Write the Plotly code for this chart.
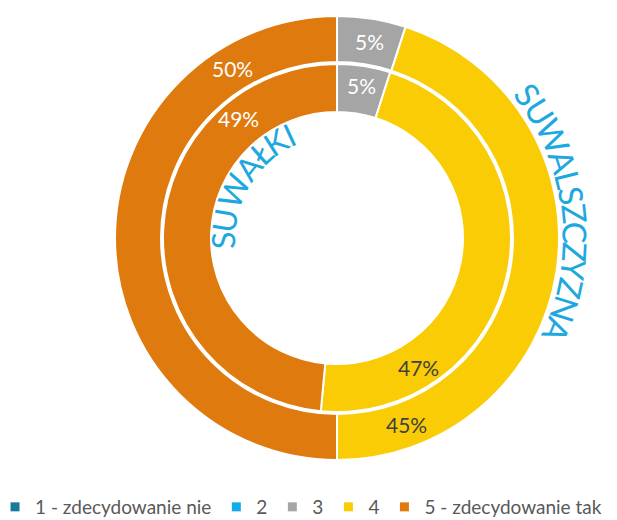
import math
import plotly.graph_objects as go

# ---------------- data ----------------
categories = ["1 - zdecydowanie nie", "2", "3", "4", "5 - zdecydowanie tak"]
suwalszczyzna = [0, 0, 5, 45, 50]   # outer ring
suwalki = [0, 0, 5, 47, 49]         # inner ring
outer_title = "SUWALSZCZYZNA"
inner_title = "SUWAŁKI"

# ---------------- styles ----------------
colors = ["#17799E", "#12ADE8", "#A5A5A5", "#FACC05", "#DE7A0E"]
label_colors = ["#FFFFFF", "#FFFFFF", "#FFFFFF", "#404040", "#FFFFFF"]
title_color = "#1DA8E0"
FONT = "Lato"

# the html body has an 8px margin; the figure fills the rest of the window
BODY = 8
W, H = 617 - BODY, 520 - BODY
CX, CY = 337 - BODY, 238 - BODY          # ring centre (figure px)
R_OUT, R_MID, R_IN = 222, 175, 126

# label positions in window pixels (category index) -> (x, y)
outer_label_px = {2: (369, 41), 3: (406, 424), 4: (232, 68)}
inner_label_px = {2: (361, 85), 3: (418, 367), 4: (238, 118)}


def px2paper(x, y):
    return x / W, 1 - y / H


def domain(r):
    return dict(x=[(CX - r) / W, (CX + r) / W],
                y=[(H - CY - r) / H, (H - CY + r) / H])


fig = go.Figure()

fig.add_trace(go.Pie(
    labels=categories, values=suwalszczyzna, sort=False, direction="clockwise",
    rotation=0, hole=(R_MID + 1) / R_OUT, domain=domain(R_OUT),
    marker=dict(colors=colors, line=dict(color="white", width=2)),
    textinfo="none", showlegend=False, hoverinfo="label+percent"))

fig.add_trace(go.Pie(
    labels=categories, values=suwalki, sort=False, direction="clockwise",
    rotation=0, hole=R_IN / (R_MID - 1), domain=domain(R_MID - 1),
    marker=dict(colors=colors, line=dict(color="white", width=2)),
    textinfo="none", showlegend=False, hoverinfo="label+percent"))

# legend entries
for cat, col in zip(categories, colors):
    fig.add_trace(go.Scatter(x=[None], y=[None], mode="markers", name=cat,
                             marker=dict(symbol="square", size=9, color=col),
                             showlegend=True))

annotations = []
for vals, pos in ((suwalszczyzna, outer_label_px), (suwalki, inner_label_px)):
    for i, (x, y) in pos.items():
        px, py = px2paper(x - BODY, y - BODY)
        annotations.append(dict(x=px, y=py, xref="paper", yref="paper",
                                text=f"{vals[i]}%", showarrow=False,
                                xanchor="center", yanchor="middle",
                                font=dict(family=FONT, size=21, color=label_colors[i])))

# approximate letter widths (em) for arc text spacing
LW = {"S": .46, "U": .65, "W": .89, "A": .58, "L": .42, "Ł": .44, "Z": .5,
      "C": .53, "Y": .49, "N": .65, "K": .52, "I": .25}


def arc_text(text, r, th0, th1, size):
    ws = [LW.get(ch, .5) for ch in text]
    centers, acc = [], 0
    for w in ws:
        centers.append(acc + w / 2)
        acc += w
    span = centers[-1] - centers[0]
    out = []
    for ch, c in zip(text, centers):
        th = th0 + (th1 - th0) * (c - centers[0]) / span
        t = math.radians(th)
        x, y = CX + r * math.cos(t), CY + r * math.sin(t)
        ang = th + 90
        while ang > 180:
            ang -= 360
        while ang < -180:
            ang += 360
        px, py = px2paper(x, y)
        out.append(dict(x=px, y=py, xref="paper", yref="paper", text=ch,
                        showarrow=False, xanchor="center", yanchor="middle",
                        textangle=ang,
                        font=dict(family=FONT, size=size, color=title_color)))
    return out


annotations += arc_text(outer_title, 239, -37, 22.8, 33)
annotations += arc_text(inner_title, 114, 178.5, 245.2, 32)

fig.update_layout(
    width=W, height=H,
    margin=dict(l=0, r=0, t=0, b=0, autoexpand=False),
    paper_bgcolor="white", plot_bgcolor="white",
    xaxis=dict(visible=False), yaxis=dict(visible=False),
    annotations=annotations,
    legend=dict(orientation="h", x=-0.0213, xanchor="left", y=-0.0117, yanchor="bottom",
                font=dict(family=FONT, size=19, color="#595959"),
                itemclick=False, tracegroupgap=0),
)

fig.write_html("out.html")
